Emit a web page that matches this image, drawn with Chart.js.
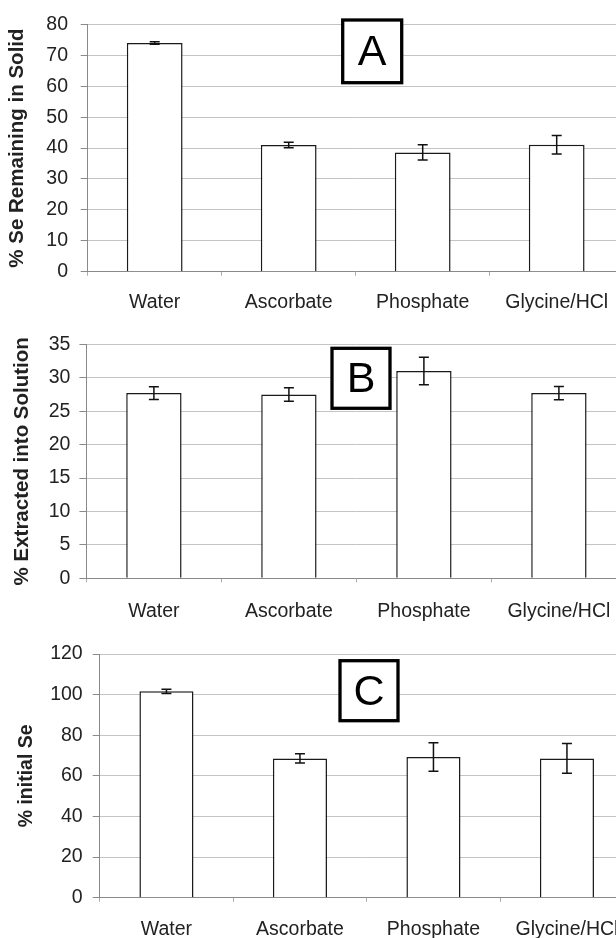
<!DOCTYPE html>
<html lang="en">
<head>
<meta charset="UTF-8">
<title>Se extraction</title>
<script src="https://cdn.jsdelivr.net/npm/chart.js@4.4.1/dist/chart.umd.min.js"></script>
<style>
  html, body { margin: 0; padding: 0; background: #fff; overflow: hidden; }
  .panel { position: absolute; left: 0; }
</style>
</head>
<body>
<div class="panel" style="top:0px"><canvas id="chartA" width="640" height="322"></canvas></div>
<div class="panel" style="top:300px"><canvas id="chartB" width="640" height="330"></canvas></div>
<div class="panel" style="top:620px"><canvas id="chartC" width="640" height="318"></canvas></div>
<script>
const categories = ['Water', 'Ascorbate', 'Phosphate', 'Glycine/HCl'];

// A: selenium left in the solid
const solidMean = [74.0, 41.0, 38.6, 41.1];
const solidErr  = [0.4, 0.9, 2.5, 3.0];
const solidTicks = [0, 10, 20, 30, 40, 50, 60, 70, 80];

// B: selenium extracted into solution
const extractMean = [27.7, 27.5, 31.0, 27.7];
const extractErr  = [0.95, 1.0, 2.05, 1.0];
const extractTicks = [0, 5, 10, 15, 20, 25, 30, 35];

// C: mass balance, % of initial Se
const totalMean = [101.6, 68.6, 69.3, 68.6];
const totalErr  = [1.1, 2.3, 7.0, 7.3];
const totalTicks = [0, 20, 40, 60, 80, 100, 120];

const FONT = '"Liberation Sans", Arial, sans-serif';

// vertical error bars drawn through the y scale
const errorBars = {
  id: 'errorBars',
  afterDatasetsDraw(chart, args, opts) {
    const ctx = chart.ctx;
    const y = chart.scales.y;
    const vals = chart.data.datasets[0].data;
    ctx.save();
    ctx.strokeStyle = '#111';
    ctx.lineWidth = 1.5;
    chart.getDatasetMeta(0).data.forEach((bar, i) => {
      const hi = y.getPixelForValue(vals[i] + opts.err[i]);
      const lo = y.getPixelForValue(vals[i] - opts.err[i]);
      ctx.beginPath();
      ctx.moveTo(bar.x, hi); ctx.lineTo(bar.x, lo);
      ctx.moveTo(bar.x - 5, hi); ctx.lineTo(bar.x + 5, hi);
      ctx.moveTo(bar.x - 5, lo); ctx.lineTo(bar.x + 5, lo);
      ctx.stroke();
    });
    ctx.restore();
  }
};

// boxed panel letter
const panelLetter = {
  id: 'panelLetter',
  afterDraw(chart, args, opts) {
    const ctx = chart.ctx;
    const [x, y, w, h] = opts.box;
    ctx.save();
    ctx.fillStyle = '#fff';
    ctx.fillRect(x, y, w, h);
    ctx.strokeStyle = '#000';
    ctx.lineWidth = 3.3;
    ctx.strokeRect(x, y, w, h);
    ctx.fillStyle = '#000';
    ctx.font = '43px ' + FONT;
    ctx.textAlign = 'center';
    ctx.textBaseline = 'middle';
    ctx.fillText(opts.text, x + w / 2, y + h / 2 + 2);
    ctx.restore();
  }
};

const panels = [
  { id: 'chartA', letter: 'A', title: '% Se Remaining in Solid', titleSize: 20.5, titlePad: 5.3,
    mean: solidMean, err: solidErr, ticks: solidTicks,
    top: 18.3, bottom: 271.7, left: 87.7, right: 623.7, yPad: 12.7, xPad: 15.5, barPct: 0.416,
    box: [342.7, 20, 59, 62.7] },
  { id: 'chartB', letter: 'B', title: '% Extracted into Solution', titleSize: 20.5, titlePad: 10,
    mean: extractMean, err: extractErr, ticks: extractTicks,
    top: 44.3, bottom: 278.3, left: 86.4, right: 626.4, yPad: 9, xPad: 17.3, barPct: 0.41,
    box: [332, 48.3, 58, 60] },
  { id: 'chartC', letter: 'C', title: '% initial Se', titleSize: 19.5, titlePad: 15,
    mean: totalMean, err: totalErr, ticks: totalTicks,
    top: 34, bottom: 277.7, left: 99.7, right: 633.7, yPad: 10, xPad: 16.3, barPct: 0.405,
    box: [340, 40.7, 58, 60] }
];

panels.forEach(p => {
  const canvas = document.getElementById(p.id);
  const W = canvas.width, H = canvas.height;
  new Chart(canvas, {
    type: 'bar',
    data: {
      labels: categories,
      datasets: [{
        data: p.mean,
        backgroundColor: '#fff',
        borderColor: '#1a1a1a',
        borderWidth: 1.5,
        categoryPercentage: 1,
        barPercentage: p.barPct
      }]
    },
    options: {
      responsive: false,
      animation: false,
      layout: { padding: { top: p.top, right: W - p.right, left: 0, bottom: 0 } },
      plugins: {
        legend: { display: false },
        tooltip: { enabled: false },
        errorBars: { err: p.err },
        panelLetter: { text: p.letter, box: p.box }
      },
      scales: {
        x: {
          afterFit(scale) { scale.height = H - p.bottom; },
          grid: { drawOnChartArea: false, drawTicks: true, tickLength: 4, tickColor: '#aaa', offset: true },
          border: { color: '#8a8a8a' },
          ticks: { color: '#222', padding: p.xPad, font: { family: FONT, size: 19.5 } }
        },
        y: {
          min: p.ticks[0],
          max: p.ticks[p.ticks.length - 1],
          afterFit(scale) { scale.width = p.left; },
          grid: { color: '#c4c4c4', tickColor: '#8a8a8a', tickLength: 7 },
          border: { color: '#8a8a8a' },
          ticks: { stepSize: p.ticks[1] - p.ticks[0], color: '#222', padding: p.yPad,
                   font: { family: FONT, size: 19.5 } },
          title: { display: true, text: p.title, color: '#222',
                   padding: { top: p.titlePad, bottom: 0 },
                   font: { family: FONT, size: p.titleSize, weight: 'bold' } }
        }
      }
    },
    plugins: [errorBars, panelLetter]
  });
});
</script>
</body>
</html>
